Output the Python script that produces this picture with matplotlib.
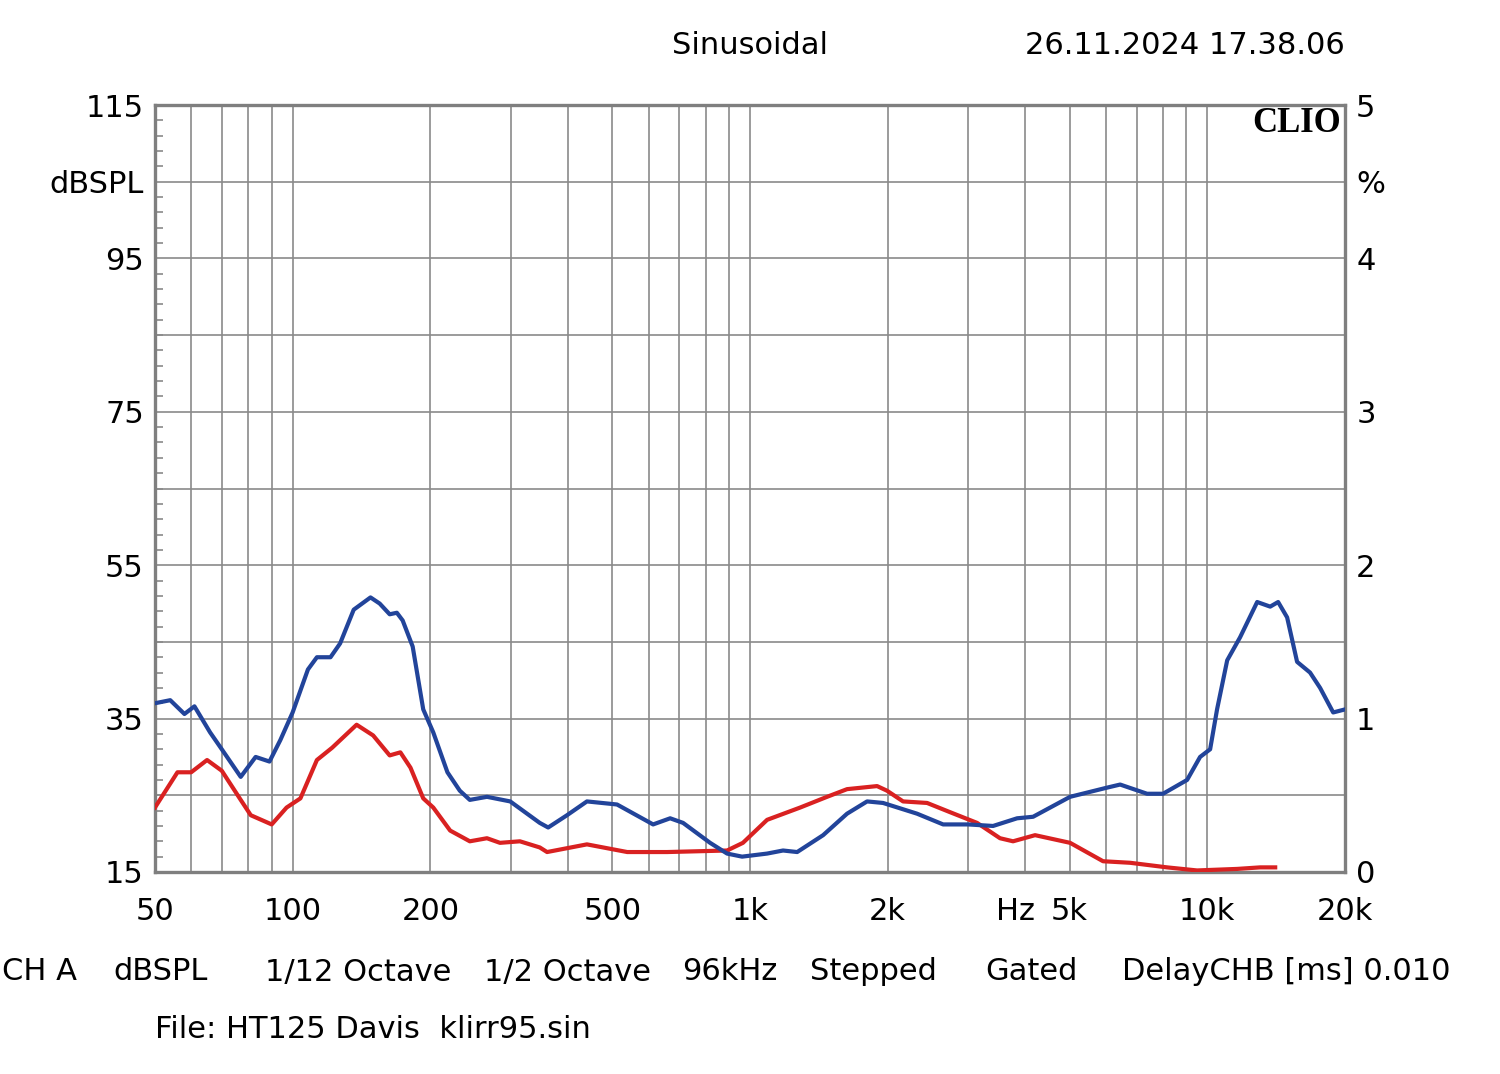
import matplotlib
matplotlib.use("Agg")
import matplotlib.pyplot as plt
from matplotlib.ticker import FixedLocator, NullLocator

# distortion curves, in % (right axis)
blue_freq = [50, 54, 58, 61, 66, 70, 77, 83, 89, 94, 100, 108, 113, 121, 127, 136, 148, 155,
             163, 169, 174, 183, 193, 203, 218, 232, 244, 266, 299, 347, 362, 398, 440, 512,
             614, 669, 714, 818, 891, 961, 1090, 1181, 1268, 1445, 1630, 1803, 1954, 2319,
             2644, 3000, 3400, 3837, 4159, 5010, 6037, 6446, 7381, 8000, 9030, 9640, 10140,
             10500, 11050, 11790, 12850, 13720, 14280, 14940, 15710, 16770, 17640, 18840, 20000]
blue_pct = [1.10, 1.12, 1.03, 1.08, 0.91, 0.80, 0.62, 0.75, 0.72, 0.86, 1.04, 1.32, 1.40, 1.40,
            1.49, 1.71, 1.79, 1.75, 1.68, 1.69, 1.64, 1.47, 1.06, 0.91, 0.65, 0.53, 0.47, 0.49,
            0.46, 0.32, 0.29, 0.37, 0.46, 0.44, 0.31, 0.35, 0.32, 0.19, 0.12, 0.10, 0.12, 0.14,
            0.13, 0.24, 0.38, 0.46, 0.45, 0.38, 0.31, 0.31, 0.30, 0.35, 0.36, 0.49, 0.55, 0.57,
            0.51, 0.51, 0.60, 0.75, 0.80, 1.06, 1.38, 1.53, 1.76, 1.73, 1.76, 1.66, 1.37, 1.30,
            1.20, 1.04, 1.06]

red_freq = [50, 56, 60, 65, 70, 77, 81, 90, 97, 104, 113, 122, 138, 150, 163, 172, 181, 193,
            203, 221, 244, 266, 284, 314, 347, 360, 440, 539, 659, 891, 965, 1090, 1287, 1474,
            1630, 1896, 1993, 2161, 2439, 2737, 3137, 3521, 3760, 4200, 5010, 5915, 6776, 8165,
            9496, 11620, 13040, 14070]
red_pct = [0.42, 0.65, 0.65, 0.73, 0.66, 0.47, 0.37, 0.31, 0.42, 0.48, 0.73, 0.81, 0.96, 0.89,
           0.76, 0.78, 0.68, 0.48, 0.42, 0.27, 0.20, 0.22, 0.19, 0.20, 0.16, 0.13, 0.18, 0.13,
           0.13, 0.14, 0.19, 0.34, 0.42, 0.49, 0.54, 0.56, 0.53, 0.46, 0.45, 0.39, 0.32, 0.22,
           0.20, 0.24, 0.19, 0.07, 0.06, 0.03, 0.01, 0.02, 0.03, 0.03]

x_ticks = [50, 100, 200, 500, 1000, 2000, 5000, 10000, 20000]
x_labels = ['50', '100', '200', '500', '1k', '2k', '5k', '10k', '20k']
left_ticks = [15, 35, 55, 75, 95, 105, 115]
left_labels = ['15', '35', '55', '75', '95', 'dBSPL', '115']
right_ticks = [0, 1, 2, 3, 4, 4.5, 5]
right_labels = ['0', '1', '2', '3', '4', '%', '5']

plt.rcParams['font.family'] = ['DejaVu Sans']
FS = 22
GRID = '#8a8a8a'

fig = plt.figure(figsize=(15, 10.74), dpi=100)
ax = fig.add_axes([0.1033, 0.1881, 0.7934, 0.7141])
ax.set_xscale('log')
ax.set_xlim(50, 20000)
ax.set_ylim(15, 115)

# grid
for v in range(25, 115, 10):
    ax.axhline(v, color=GRID, lw=1.2, zorder=1)
grid_x = [m * d for d in (10, 100, 1000, 10000) for m in range(1, 10)]
for g in grid_x:
    if 50 < g < 20000:
        ax.axvline(g, color=GRID, lw=1.2, zorder=1)

for s in ax.spines.values():
    s.set_color('#7f7f7f')
    s.set_linewidth(2.4)

ax.xaxis.set_major_locator(FixedLocator(x_ticks))
ax.xaxis.set_minor_locator(NullLocator())
ax.set_xticklabels(x_labels)
ax.tick_params(axis='x', length=0, pad=18, labelsize=FS)
ax.set_yticks(left_ticks)
ax.set_yticklabels(left_labels)
ax.yaxis.set_minor_locator(FixedLocator(list(range(15, 116, 2))))
ax.tick_params(axis='y', which='major', length=0, pad=8, labelsize=FS)
ax.tick_params(axis='y', which='minor', direction='in', length=6, width=1.2,
               color=GRID, left=True, right=True)

ax2 = ax.twinx()
ax2.set_ylim(0, 5)
ax2.set_yticks(right_ticks)
ax2.set_yticklabels(right_labels)
ax2.yaxis.set_minor_locator(NullLocator())
ax2.tick_params(axis='y', length=0, pad=8, labelsize=FS)
for s in ax2.spines.values():
    s.set_visible(False)

ax2.plot(red_freq, red_pct, color='#d92121', lw=3, zorder=3)
ax2.plot(blue_freq, blue_pct, color='#22449a', lw=3, zorder=4)

ax.text(1015 / 1500, 1 - 912 / 1074, 'Hz', transform=fig.transFigure,
        fontsize=FS, ha='center', va='center')

ax.text(0.9966, 0.997, 'CLIO', transform=ax.transAxes, ha='right', va='top',
        fontsize=25, fontweight='bold', family='Liberation Serif')

fig.text(750 / 1500, 1 - 46 / 1074, 'Sinusoidal', fontsize=FS, ha='center', va='center')
fig.text(1345 / 1500, 1 - 46 / 1074, '26.11.2024 17.38.06', fontsize=FS, ha='right', va='center')

footer = [(2, 'CH A'), (113, 'dBSPL'), (265, '1/12 Octave'), (484, '1/2 Octave'),
          (682, '96kHz'), (810, 'Stepped'), (985, 'Gated'), (1122, 'DelayCHB [ms] 0.010')]
for px, txt in footer:
    fig.text(px / 1500, 1 - 972 / 1074, txt, fontsize=FS, ha='left', va='center')
fig.text(155 / 1500, 1 - 1030 / 1074, 'File: HT125 Davis  klirr95.sin', fontsize=FS,
         ha='left', va='center')

fig.savefig('out.png', dpi=100, facecolor='white')
